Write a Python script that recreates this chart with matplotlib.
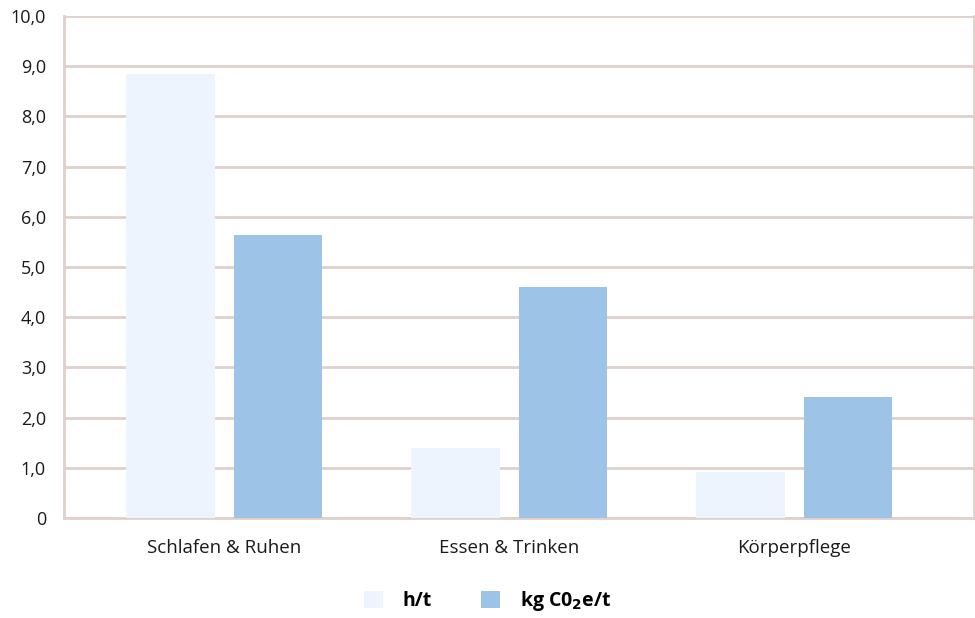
import matplotlib.pyplot as plt
import numpy as np
from matplotlib.patches import Patch

plt.rcParams['font.family'] = ['Open Sans', 'DejaVu Sans']

categories = ["Schlafen & Ruhen", "Essen & Trinken", "Körperpflege"]
hours_per_day = [8.84, 1.39, 0.92]
co2_per_day = [5.64, 4.60, 2.41]
y_ticks = [0, 1, 2, 3, 4, 5, 6, 7, 8, 9, 10]
y_labels = ["0", "1,0", "2,0", "3,0", "4,0", "5,0", "6,0", "7,0", "8,0", "9,0", "10,0"]

LIGHT = "#eef4fd"
BLUE = "#9dc3e6"
GRID = "#e0d0cc"

fig = plt.figure(figsize=(9.75, 6.18), dpi=100)
ax = fig.add_axes([0.0656, 0.1618, 0.933, 0.8123])

x = np.arange(len(categories))
w = 0.31
ax.bar(x - 0.187, hours_per_day, w, color=LIGHT, zorder=3)
ax.bar(x + 0.19, co2_per_day, w, color=BLUE, zorder=3)

ax.set_xlim(-0.56, 2.63)
ax.set_ylim(0, 10)
ax.set_yticks(y_ticks)
ax.set_yticklabels(y_labels)
ax.set_xticks(x)
ax.set_xticklabels(categories)
ax.yaxis.grid(True, color=GRID, linewidth=2, zorder=0)
ax.set_axisbelow(True)

ax.spines["top"].set_visible(False)
for side in ["left", "right", "bottom"]:
    ax.spines[side].set_color(GRID)
    ax.spines[side].set_linewidth(2)

ax.tick_params(axis="y", length=0, pad=13, labelsize=13, labelcolor="#1a1a1a")
ax.tick_params(axis="x", length=0, pad=15, labelsize=13.5, labelcolor="#1a1a1a")

handles = [Patch(facecolor=LIGHT, edgecolor="none"), Patch(facecolor=BLUE, edgecolor="none")]
fig.legend(handles, ["h/t", r"kg C0$_\mathbf{2}$e/t"], loc="center", bbox_to_anchor=(0.5, 0.027),
           ncol=2, frameon=False, handlelength=1.0, handleheight=1.0, columnspacing=2.5,
           handletextpad=1.0, prop={"weight": "bold", "size": 14})

fig.savefig("out.png", dpi=100)
